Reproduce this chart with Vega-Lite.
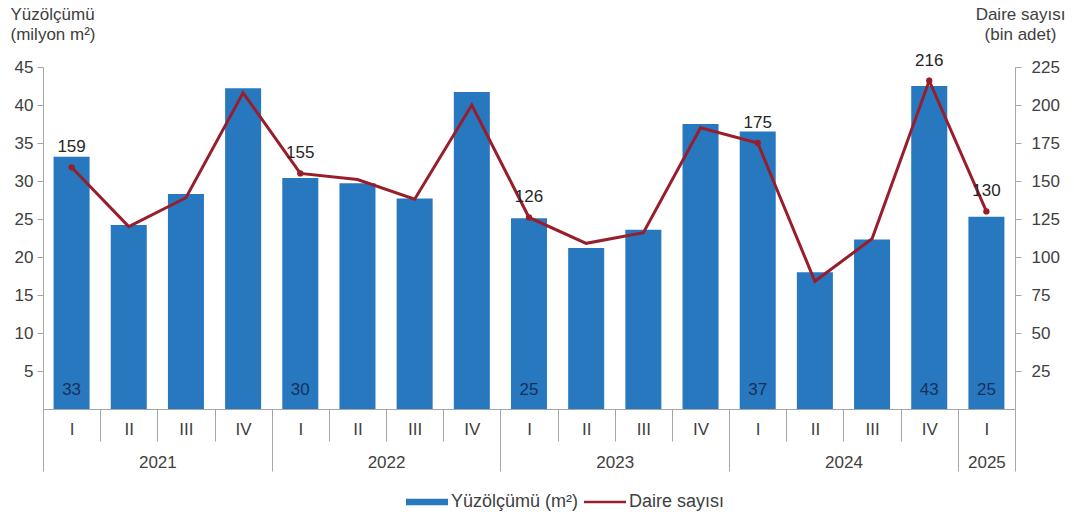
{
  "$schema": "https://vega.github.io/schema/vega-lite/v6.json",
  "width": 972,
  "height": 342,
  "autosize": "none",
  "padding": {"left": 43, "top": 67, "right": 59, "bottom": 111},
  "background": "white",
  "config": {
    "font": "Liberation Sans",
    "view": {"stroke": null},
    "axis": {
      "grid": false,
      "domainColor": "#a6a6a6",
      "tickColor": "#a6a6a6",
      "labelColor": "#404040",
      "labelFontSize": 17,
      "titleColor": "#404040",
      "titleFontSize": 17,
      "titleFontWeight": "normal"
    }
  },
  "data": {
    "values": [
      {"q": "2021-I", "yuz": 33.2, "daire": 159, "ylbl": "33", "dlbl": "159"},
      {"q": "2021-II", "yuz": 24.2, "daire": 120, "ylbl": null, "dlbl": null},
      {"q": "2021-III", "yuz": 28.3, "daire": 139, "ylbl": null, "dlbl": null},
      {"q": "2021-IV", "yuz": 42.2, "daire": 208, "ylbl": null, "dlbl": null},
      {"q": "2022-I", "yuz": 30.4, "daire": 155, "ylbl": "30", "dlbl": "155"},
      {"q": "2022-II", "yuz": 29.7, "daire": 151, "ylbl": null, "dlbl": null},
      {"q": "2022-III", "yuz": 27.7, "daire": 138, "ylbl": null, "dlbl": null},
      {"q": "2022-IV", "yuz": 41.7, "daire": 200, "ylbl": null, "dlbl": null},
      {"q": "2023-I", "yuz": 25.1, "daire": 126, "ylbl": "25", "dlbl": "126"},
      {"q": "2023-II", "yuz": 21.2, "daire": 109, "ylbl": null, "dlbl": null},
      {"q": "2023-III", "yuz": 23.6, "daire": 116, "ylbl": null, "dlbl": null},
      {"q": "2023-IV", "yuz": 37.5, "daire": 185, "ylbl": null, "dlbl": null},
      {"q": "2024-I", "yuz": 36.5, "daire": 175, "ylbl": "37", "dlbl": "175"},
      {"q": "2024-II", "yuz": 18.0, "daire": 84, "ylbl": null, "dlbl": null},
      {"q": "2024-III", "yuz": 22.3, "daire": 112, "ylbl": null, "dlbl": null},
      {"q": "2024-IV", "yuz": 42.5, "daire": 216, "ylbl": "43", "dlbl": "216"},
      {"q": "2025-I", "yuz": 25.3, "daire": 130, "ylbl": "25", "dlbl": "130"}
    ]
  },
  "layer": [
    {
      "encoding": {
        "x": {
          "field": "q",
          "type": "ordinal",
          "sort": null,
          "scale": {"paddingInner": 0, "paddingOuter": 0},
          "axis": {
            "orient": "bottom",
            "title": null,
            "labelExpr": "split(datum.value, '-')[1]",
            "tickBand": "extent",
            "tickSize": 32,
            "labelPadding": -20,
            "labelAngle": 0,
            "labelOverlap": false,
            "labelFontSize": 17,
            "domain": true
          }
        }
      },
      "layer": [
        {
          "mark": {"type": "bar", "width": {"band": 0.63}},
          "encoding": {
            "y": {
              "field": "yuz",
              "type": "quantitative",
              "scale": {"domain": [0, 45], "nice": false},
              "axis": {
                "title": ["Yüzölçümü", "(milyon m²)"],
                "titleAngle": 0,
                "titleAlign": "left",
                "titleX": -33,
                "titleY": -61,
                "titleBaseline": "top",
                "titleLineHeight": 20,
                "values": [5, 10, 15, 20, 25, 30, 35, 40, 45],
                "tickSize": 6,
                "labelPadding": 4
              }
            },
            "color": {
              "datum": "Yüzölçümü (m²)",
              "scale": {"domain": ["Yüzölçümü (m²)", "Daire sayısı"], "range": ["#2878c0", "#981e2c"]},
              "legend": {
                "title": null,
                "orient": "none",
                "legendX": 363,
                "legendY": 414,
                "direction": "horizontal",
                "symbolSize": 1764,
                "labelFontSize": 18,
                "labelColor": "#404040",
                "labelOffset": 3,
                "columnPadding": 5,
                "encode": {
                  "symbols": {
                    "update": {
                      "shape": {"signal": "datum.value === 'Daire sayısı' ? 'M-1,-0.06H1V0.06H-1Z' : 'M-1,-0.15H1V0.15H-1Z'"},
                      "fill": {"scale": "color", "field": "value"},
                      "opacity": {"value": 1},
                      "strokeWidth": {"value": 0}
                    }
                  }
                }
              }
            }
          }
        },
        {
          "transform": [{"filter": "datum.ylbl != null"}],
          "mark": {"type": "text", "baseline": "alphabetic", "dy": -14, "fontSize": 17, "color": "#17305a"},
          "encoding": {
            "y": {"datum": 0, "type": "quantitative"},
            "text": {"field": "ylbl"}
          }
        }
      ]
    },
    {
      "encoding": {
        "x": {
          "field": "q",
          "type": "ordinal",
          "sort": null,
          "scale": {"paddingInner": 0, "paddingOuter": 0},
          "axis": {
            "orient": "bottom",
            "title": null,
            "domain": false,
            "tickBand": "extent",
            "tickSize": 62,
            "labelPadding": -17,
            "labelAngle": 0,
            "labelOverlap": false,
            "labelFontSize": 17,
            "labelExpr": "datum.value == '2025-I' ? '2025' : (split(datum.value, '-')[1] == 'II' ? split(datum.value, '-')[0] : '')",
            "labelOffset": {"condition": {"test": "datum.value == '2025-I'", "value": 0}, "value": 28.6},
            "tickOpacity": {"condition": {"test": "datum.index < 0 || indexof(['2021-IV','2022-IV','2023-IV','2024-IV','2025-I'], datum.value) >= 0", "value": 1}, "value": 0}
          }
        },
        "y": {
          "field": "daire",
          "type": "quantitative",
          "scale": {"domain": [0, 225], "nice": false},
          "axis": {
            "orient": "right",
            "title": ["Daire sayısı", "(bin adet)"],
            "titleAngle": 0,
            "titleAlign": "center",
            "titleX": 5,
            "titleY": -61,
            "titleBaseline": "top",
            "titleLineHeight": 20,
            "values": [25, 50, 75, 100, 125, 150, 175, 200, 225],
            "tickSize": 6,
            "labelPadding": 10
          }
        }
      },
      "layer": [
        {
          "mark": {"type": "line", "strokeWidth": 3},
          "encoding": {"color": {"datum": "Daire sayısı"}}
        },
        {
          "transform": [{"filter": "datum.dlbl != null"}],
          "mark": {"type": "point", "filled": true, "size": 40, "color": "#981e2c", "opacity": 1}
        },
        {
          "transform": [{"filter": "datum.dlbl != null"}],
          "mark": {"type": "text", "baseline": "alphabetic", "dy": -15, "fontSize": 17, "color": "#262626"},
          "encoding": {"text": {"field": "dlbl"}}
        }
      ]
    }
  ],
  "resolve": {
    "scale": {"y": "independent"},
    "axis": {"x": "independent", "y": "independent"}
  }
}
